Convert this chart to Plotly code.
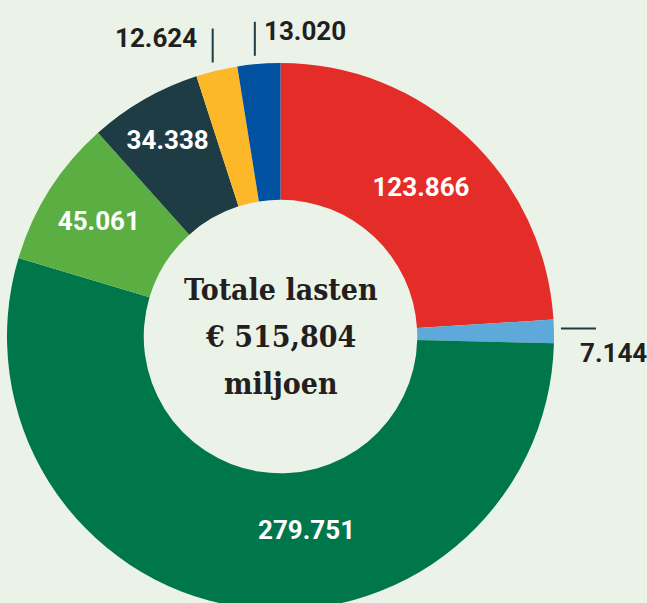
import math
import plotly.graph_objects as go

# ---- data ----
categories = ["Rood", "Lichtblauw", "Donkergroen", "Groen", "Donkerblauwgroen", "Geel", "Blauw"]
values = [123.866, 7.144, 279.751, 45.061, 34.338, 12.624, 13.020]
value_labels = ["123.866", "7.144", "279.751", "45.061", "34.338", "12.624", "13.020"]
center_lines = ["Totale lasten", "€ 515,804", "miljoen"]

colors = ["#E42D29", "#5DA9DA", "#00764B", "#5BAF42", "#1E3C43", "#FCB828", "#0051A0"]
# label placement: "in" = plotly inside label, "ann" = annotation in the ring, "out" = outside with leader line
placement = ["in", "out", "ann", "in", "in", "out", "out"]
ann_angle_shift = {2: -16.8}   # degrees, label nudged along the ring
ann_radius = {2: 195}

W, H = 647, 620
BG = "#EBF3E8"
cx, cy, R = 280.5, 336.5, 273.5

def px(x):
    return x / W

def py(y):
    return 1 - y / H

texts = [lab if p == "in" else "" for lab, p in zip(value_labels, placement)]

fig = go.Figure(go.Pie(
    labels=categories,
    values=values,
    text=texts,
    texttemplate="%{text}",
    textposition="inside",
    insidetextorientation="horizontal",
    hole=0.5,
    sort=False,
    direction="clockwise",
    rotation=0,
    marker=dict(colors=colors, line=dict(width=0)),
    textfont=dict(family="Roboto", size=26, color="white", weight=700),
    domain=dict(x=[px(cx - R), px(cx + R)], y=[py(cy + R), py(cy - R)]),
    showlegend=False,
    hoverinfo="label+value",
))

# mid angles of slices (clockwise from 12 o'clock)
total = sum(values)
mids = []
acc = 0
for v in values:
    mids.append((acc + v / 2) / total * 2 * math.pi)
    acc += v

shapes = []
annotations = []
line_col = "#1E3C43"
lab_font = dict(family="Roboto", size=26, color="#231F20", weight=700)
in_font = dict(family="Roboto", size=26, color="white", weight=700)

for i, p in enumerate(placement):
    a = mids[i]
    if p == "in":
        continue
    if p == "ann":
        aa = a + math.radians(ann_angle_shift.get(i, 0))
        rr = ann_radius.get(i, R * 0.75)
        annotations.append(dict(x=px(cx + rr * math.sin(aa)), y=py(cy - rr * math.cos(aa)),
                                xref="paper", yref="paper", text=value_labels[i],
                                showarrow=False, xanchor="center", yanchor="middle",
                                font=in_font))
        continue
    ex = cx + R * math.sin(a)
    ey = cy - R * math.cos(a)
    if abs(math.sin(a)) > 0.9:
        # horizontal leader line to the right
        x0, x1 = ex + 7, ex + 42
        yl = ey - 3
        shapes.append(dict(type="line", xref="paper", yref="paper",
                           x0=px(x0), x1=px(x1), y0=py(yl), y1=py(yl),
                           line=dict(color=line_col, width=2)))
        annotations.append(dict(x=px(x0 + 17), y=py(yl + 25), xref="paper", yref="paper",
                                text=value_labels[i], showarrow=False,
                                xanchor="left", yanchor="middle", font=lab_font))
    else:
        # vertical leader line upwards
        gap = 8
        y0 = ey - gap
        y1 = y0 - 34
        shapes.append(dict(type="line", xref="paper", yref="paper",
                           x0=px(ex - 4), x1=px(ex - 4), y0=py(y0), y1=py(y1),
                           line=dict(color=line_col, width=2)))
        if math.sin(a) < -0.15:
            annotations.append(dict(x=px(ex - 4 - 14), y=py((y0 + y1) / 2 - 8),
                                    xref="paper", yref="paper",
                                    text=value_labels[i], showarrow=False,
                                    xanchor="right", yanchor="middle", font=lab_font))
        else:
            annotations.append(dict(x=px(ex - 4 + 7), y=py((y0 + y1) / 2 - 8),
                                    xref="paper", yref="paper",
                                    text=value_labels[i], showarrow=False,
                                    xanchor="left", yanchor="middle", font=lab_font))

center_font = dict(family="DejaVu Serif Condensed, DejaVu Serif, serif", size=30,
                   color="#231F20", weight=700)
for k, t in enumerate(center_lines):
    annotations.append(dict(x=px(cx), y=py(cy + (k - 1) * 47), xref="paper", yref="paper",
                            text=t, showarrow=False, xanchor="center", yanchor="middle",
                            font=center_font))

fig.update_layout(
    width=W, height=H,
    margin=dict(l=0, r=0, t=0, b=0),
    paper_bgcolor=BG, plot_bgcolor=BG,
    shapes=shapes, annotations=annotations,
    uniformtext=dict(minsize=10),
)

fig.write_html("out.html", config={"displayModeBar": False}, post_script=(
    "document.body.style.margin='0';"
    "document.body.style.overflow='hidden';"
    "document.documentElement.style.overflow='hidden';"
    "document.body.style.background='" + BG + "';"
))
